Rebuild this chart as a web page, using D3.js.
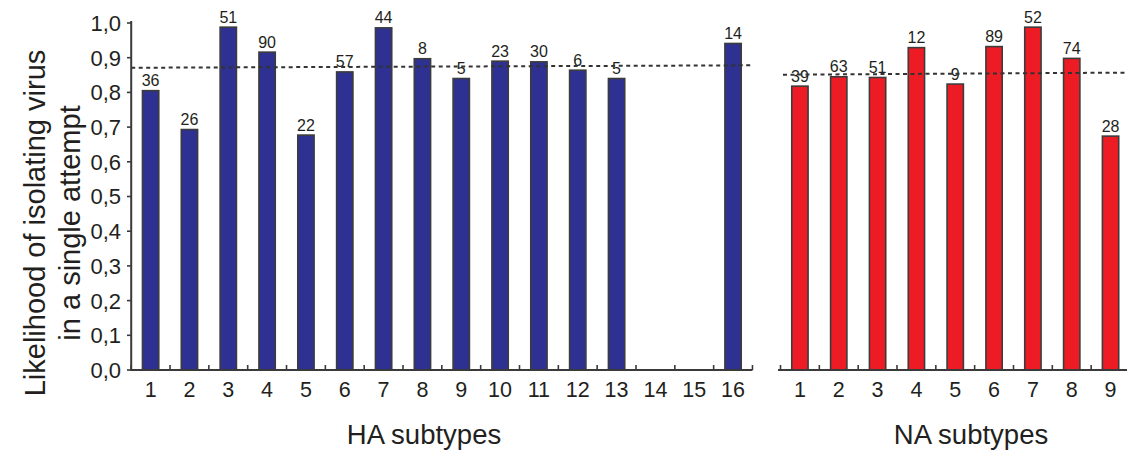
<!DOCTYPE html>
<html>
<head>
<meta charset="utf-8">
<script src="https://cdn.jsdelivr.net/npm/d3@7"></script>
<style>
  html, body { margin: 0; padding: 0; background: #ffffff; }
  svg { display: block; font-family: "Liberation Sans", Arial, sans-serif; }
</style>
</head>
<body>
<svg id="chart" width="1127" height="453"></svg>
<script>
// HA subtypes: likelihood of isolation and number of attempts
const haCategories = ["1","2","3","4","5","6","7","8","9","10","11","12","13","14","15","16"];
const haValues = [0.805, 0.693, 0.988, 0.916, 0.677, 0.859, 0.986, 0.897, 0.840, 0.890, 0.888, 0.864, 0.840, null, null, 0.941];
const haCounts = [36, 26, 51, 90, 22, 57, 44, 8, 5, 23, 30, 6, 5, null, null, 14];
const haMeanLine = [0.871, 0.878];

// NA subtypes
const naCategories = ["1","2","3","4","5","6","7","8","9"];
const naValues = [0.818, 0.845, 0.843, 0.929, 0.824, 0.932, 0.988, 0.898, 0.674];
const naCounts = [39, 63, 51, 12, 9, 89, 52, 74, 28];
const naMeanLine = [0.851, 0.857];

// y axis ticks
const yTickValues = [0, 0.1, 0.2, 0.3, 0.4, 0.5, 0.6, 0.7, 0.8, 0.9, 1.0];
const yTickLabels = ["0,0","0,1","0,2","0,3","0,4","0,5","0,6","0,7","0,8","0,9","1,0"];

const svg = d3.select("#chart");
const axisColor = "#3a3a3a";
const textColor = "#231f20";

const y = d3.scaleLinear().domain([0, 1]).range([370, 23]);
const step = 38.83;

const xHA = d3.scaleBand().domain(haCategories)
  .range([131.2, 131.2 + step * haCategories.length])
  .paddingInner(0.58).paddingOuter(0.29);
const xNA = d3.scaleBand().domain(naCategories)
  .range([780.5, 780.5 + step * naCategories.length])
  .paddingInner(0.58).paddingOuter(0.29);

function panel(x, cats, values, counts, meanLine, fill, axisStart, axisEnd, lineStart, lineEnd) {
  const g = svg.append("g");
  const data = cats.map((c, i) => ({ c, v: values[i], n: counts[i] })).filter(d => d.v != null);

  // bars
  g.selectAll("rect.bar").data(data).join("rect")
    .attr("class", "bar")
    .attr("x", d => x(d.c))
    .attr("y", d => y(d.v))
    .attr("width", x.bandwidth())
    .attr("height", d => y(0) - y(d.v))
    .attr("fill", fill)
    .attr("stroke", "#3c3c3c")
    .attr("stroke-width", 1.6);

  // attempt counts above bars
  g.selectAll("text.count").data(data).join("text")
    .attr("class", "count")
    .attr("x", d => x(d.c) + x.bandwidth() / 2)
    .attr("y", d => y(d.v) - 4.5)
    .attr("text-anchor", "middle")
    .attr("font-size", 16)
    .attr("fill", textColor)
    .text(d => d.n);

  // mean reference line
  g.append("line")
    .attr("x1", lineStart).attr("x2", lineEnd)
    .attr("y1", y(meanLine[0])).attr("y2", y(meanLine[1]))
    .attr("stroke", "#333333")
    .attr("stroke-width", 2)
    .attr("stroke-dasharray", "4,3.5");

  // x axis baseline with small upward ticks at band boundaries
  g.append("line")
    .attr("x1", axisStart).attr("x2", axisEnd)
    .attr("y1", y(0)).attr("y2", y(0))
    .attr("stroke", axisColor).attr("stroke-width", 2);

  const bounds = d3.range(cats.length + 1).map(i => x.range()[0] + i * x.step());
  g.selectAll("line.xtick").data(bounds).join("line")
    .attr("class", "xtick")
    .attr("x1", d => d).attr("x2", d => d)
    .attr("y1", y(0)).attr("y2", y(0) - 5)
    .attr("stroke", axisColor).attr("stroke-width", 1.6);

  // category labels
  g.selectAll("text.cat").data(cats).join("text")
    .attr("class", "cat")
    .attr("x", d => x(d) + x.bandwidth() / 2)
    .attr("y", 397)
    .attr("text-anchor", "middle")
    .attr("font-size", 21.5)
    .attr("fill", textColor)
    .text(d => d);
}

panel(xHA, haCategories, haValues, haCounts, haMeanLine, "#2e3192", 131.2, xHA.range()[1], 131.2, 753);
panel(xNA, naCategories, naValues, naCounts, naMeanLine, "#ed1c24", 778, 1130, 783, 1127);

// y axis
const yAxis = svg.append("g");
yAxis.append("line")
  .attr("x1", 131.2).attr("x2", 131.2)
  .attr("y1", y(0) + 1).attr("y2", y(1) - 2)
  .attr("stroke", axisColor).attr("stroke-width", 2);
yAxis.selectAll("line.ytick").data(yTickValues).join("line")
  .attr("class", "ytick")
  .attr("x1", 127).attr("x2", 131.2)
  .attr("y1", d => y(d)).attr("y2", d => y(d))
  .attr("stroke", axisColor).attr("stroke-width", 1.6);
yAxis.selectAll("text.ylab").data(yTickValues).join("text")
  .attr("class", "ylab")
  .attr("x", 121)
  .attr("y", d => y(d))
  .attr("dy", "0.36em")
  .attr("text-anchor", "end")
  .attr("font-size", 22)
  .attr("fill", textColor)
  .text((d, i) => yTickLabels[i]);

// axis titles
svg.append("text")
  .attr("x", 424).attr("y", 444)
  .attr("text-anchor", "middle")
  .attr("font-size", 27.5)
  .attr("fill", textColor)
  .text("HA subtypes");
svg.append("text")
  .attr("x", 971).attr("y", 444)
  .attr("text-anchor", "middle")
  .attr("font-size", 27.5)
  .attr("fill", textColor)
  .text("NA subtypes");

const yTitle = svg.append("text")
  .attr("transform", "translate(0,223) rotate(-90)")
  .attr("text-anchor", "middle")
  .attr("font-size", 29)
  .attr("fill", textColor);
yTitle.append("tspan").attr("x", 0).attr("y", 45).text("Likelihood of isolating virus");
yTitle.append("tspan").attr("x", 0).attr("y", 80).text("in a single attempt");
</script>
</body>
</html>
